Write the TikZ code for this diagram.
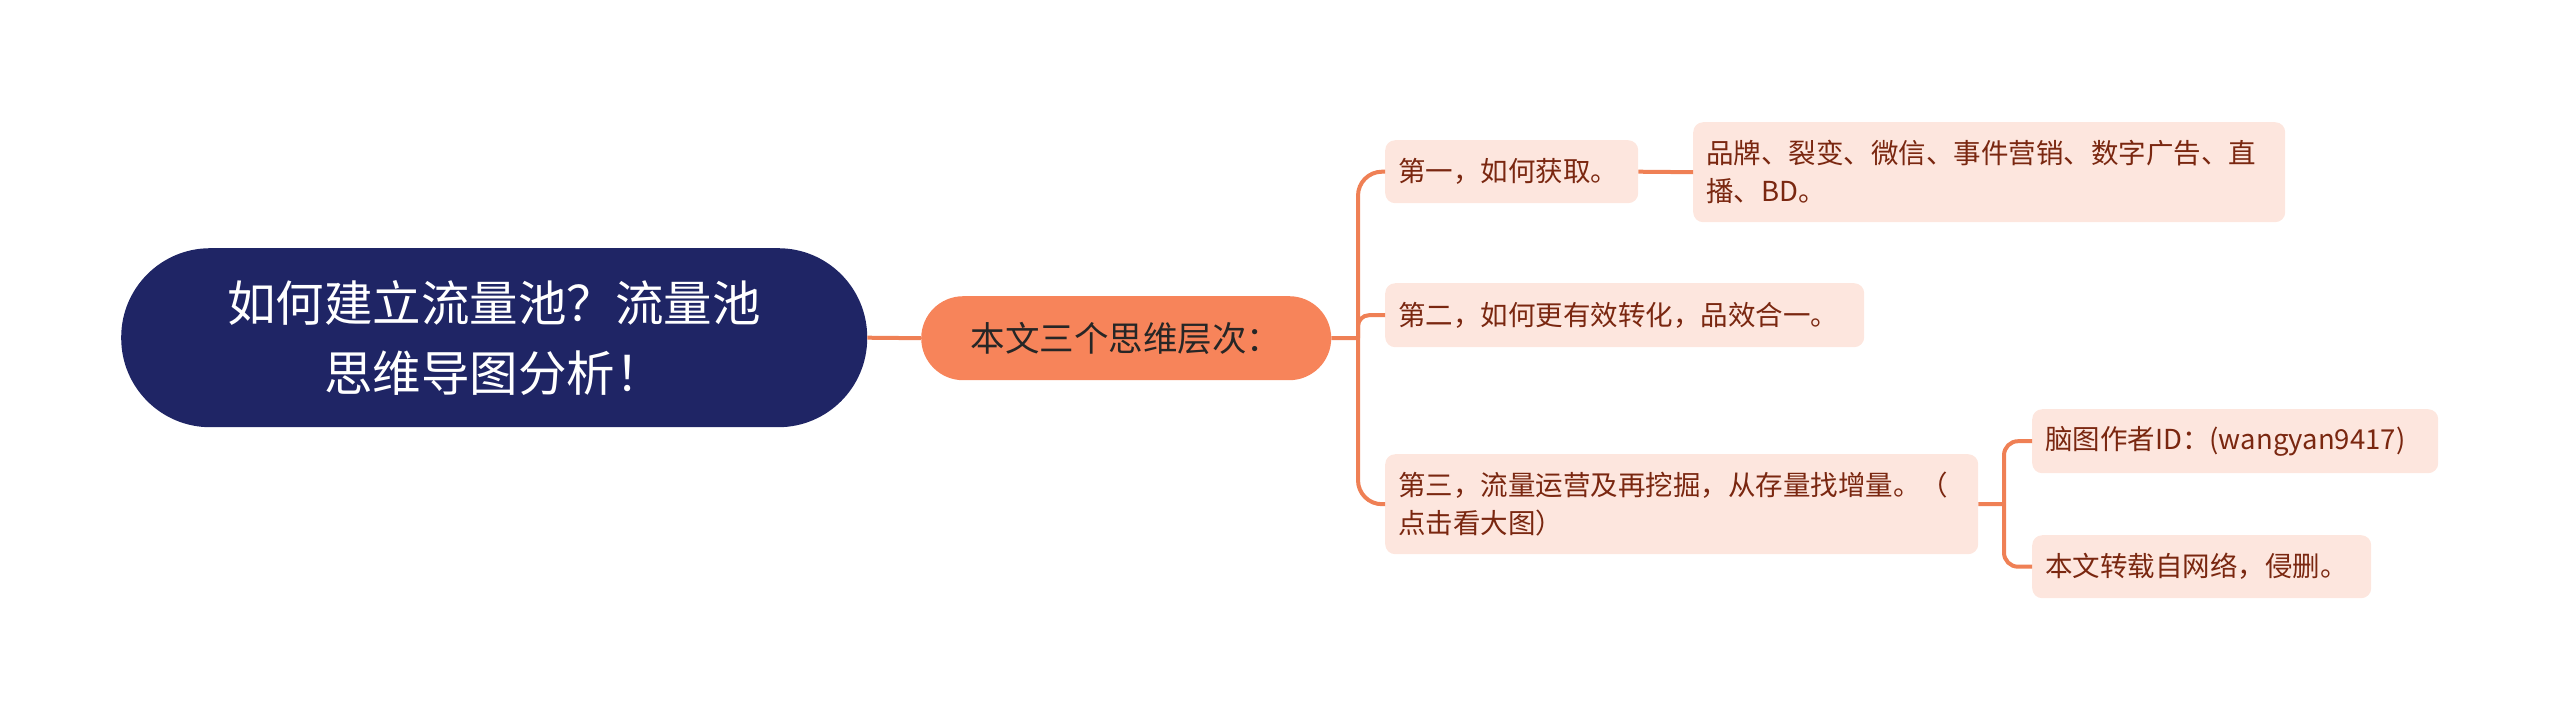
\documentclass[tikz,border=0pt]{standalone}
\usepackage{fontspec}
\setmainfont{Noto Sans CJK SC}
\definecolor{rootfill}{HTML}{1F2565}
\definecolor{mainfill}{HTML}{F7845A}
\definecolor{leaffill}{HTML}{FDE6DE}
\definecolor{leaftext}{HTML}{7A2710}
\definecolor{linecol}{HTML}{EF8055}
\tikzset{
  rootbox/.style={anchor=north west, fill=rootfill, text=white, align=center,
    inner sep=0pt, font=\fontsize{48.5}{70}\selectfont},
  mainbox/.style={anchor=north west, fill=mainfill, text=black!85, align=center,
    inner sep=0pt, font=\fontsize{34.5}{40}\selectfont},
  leafbox/.style={anchor=north west, fill=leaffill, text=leaftext, align=left,
    inner xsep=13pt, inner ysep=0pt, rounded corners=10pt,
    font=\fontsize{27.5}{38}\selectfont},
  link/.style={draw=linecol, line width=4pt},
}
\begin{document}
\begin{tikzpicture}[x=1pt,y=-1pt]
\useasboundingbox (0,0) rectangle (2560,721);
% root and main
\node[rootbox, minimum width=746pt, minimum height=179pt, rounded corners=89pt] (root) at (121,248)
  {如何建立流量池？流量池\\思维导图分析！};
\node[mainbox, minimum width=410pt, minimum height=84pt, rounded corners=42pt] (main) at (921,296)
  {本文三个思维层次：};
% first level
\node[leafbox, text width=227pt, minimum height=63pt] (c1) at (1385,140) {第一，如何获取。};
\node[leafbox, text width=453pt, minimum height=64pt] (c2) at (1385,283) {第二，如何更有效转化，品效合一。};
\node[leafbox, text width=567pt, minimum height=100pt] (c3) at (1385,454)
  {第三，流量运营及再挖掘，从存量找增量。（\\点击看大图）};
% second level
\node[leafbox, text width=566pt, minimum height=100pt] (g1) at (1693,122)
  {品牌、裂变、微信、事件营销、数字广告、直\\播、BD。};
\node[leafbox, text width=380pt, minimum height=64pt] (g2) at (2032,409) {脑图作者ID：(wangyan9417)};
\node[leafbox, text width=313pt, minimum height=63pt] (g3) at (2032,535) {本文转载自网络，侵删。};
% junctions
\coordinate (j1) at (1358,338);
\coordinate (j3) at (2004,504);
% connectors
\draw[link] (root.east) -- (main.west);
\draw[link] (main.east) -- (j1);
\draw[link, rounded corners=24pt] (j1) |- (c1.west);
\draw[link, rounded corners=11pt] (j1) |- (c2.west);
\draw[link, rounded corners=24pt] (j1) |- (c3.west);
\draw[link] (c1.east) -- (g1.west);
\draw[link] (c3.east) -- (j3);
\draw[link, rounded corners=14pt] (j3) |- (g2.west);
\draw[link, rounded corners=14pt] (j3) |- (g3.west);
\end{tikzpicture}
\end{document}
